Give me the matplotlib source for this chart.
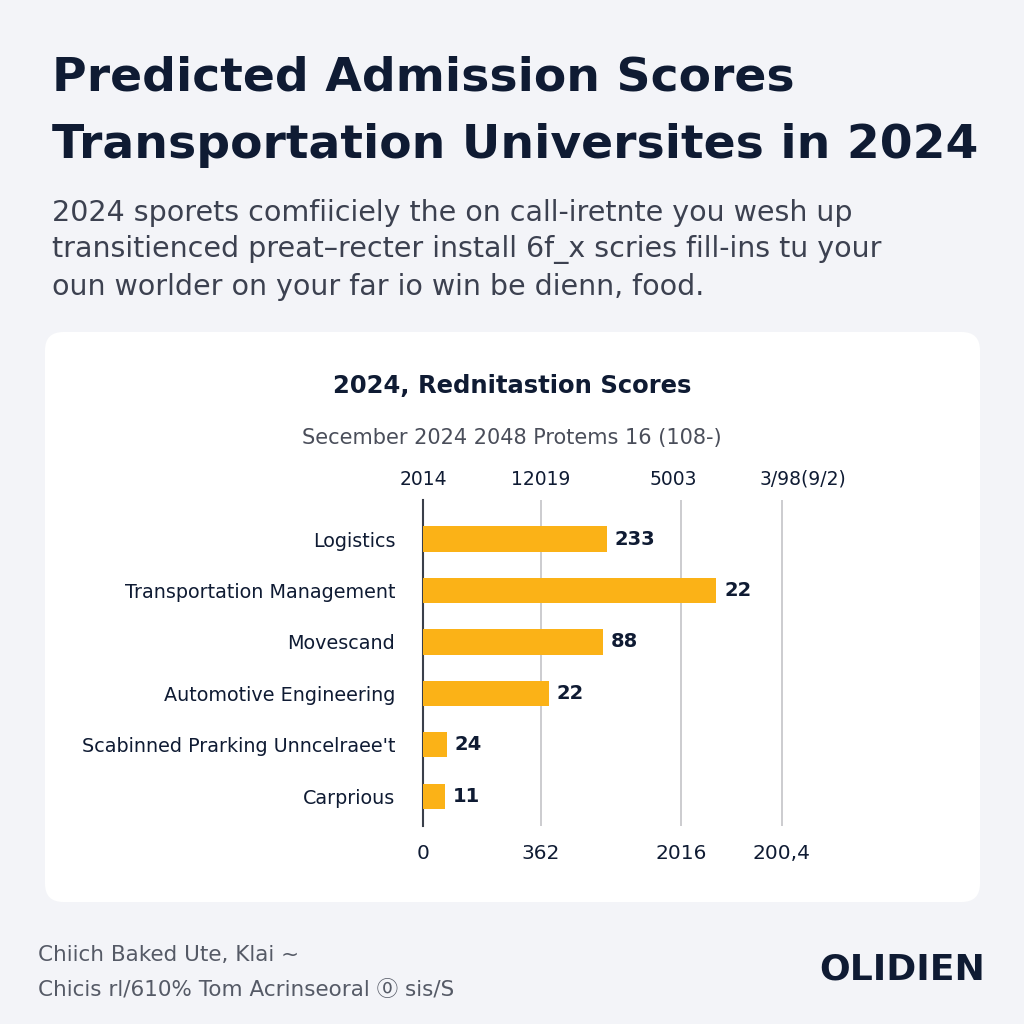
import matplotlib.pyplot as plt
from matplotlib.patches import FancyBboxPatch

# data (bar lengths in axis units)
categories = ["Logistics", "Transportation Management", "Movescand",
              "Automotive Engineering", "Scabinned Prarking Unncelraee't", "Carprious"]
values = [184, 293, 180, 126, 24, 22]
value_labels = ["233", "22", "88", "22", "24", "11"]
grid_pos = [118, 258, 359]
bottom_ticks = [0, 118, 258, 359]
bottom_labels = ["0", "362", "2016", "200,4"]
top_ticks = [0, 118, 250, 380]
top_labels = ["2014", "12019", "5003", "3/98(9/2)"]

navy = "#0f1b33"
gray = "#3c4150"
bar_color = "#fbb217"
bg = "#f3f4f8"

plt.rcParams['font.family'] = ['DejaVu Sans', 'Noto Sans CJK JP']

fig = plt.figure(figsize=(10.24, 10.24), dpi=100)
fig.patch.set_facecolor(bg)

# white card
card = FancyBboxPatch((45 / 1024, 1 - 902 / 1024), 935 / 1024, 570 / 1024,
                      boxstyle="round,pad=0,rounding_size=0.018",
                      transform=fig.transFigure, facecolor="white",
                      edgecolor="none", zorder=-5)
fig.patches.append(card)

# headline
fig.text(52 / 1024, 1 - 78 / 1024, "Predicted Admission Scores", fontsize=34,
         fontweight="bold", color=navy, va="center")
fig.text(52 / 1024, 1 - 145 / 1024, "Transportation Universites in 2024", fontsize=34,
         fontweight="bold", color=navy, va="center")

sub = ["2024 sporets comfiiciely the on call-iretnte you wesh up",
       "transitienced preat\u2013recter install 6f_x scries fill-ins tu your",
       "oun worlder on your far io win be dienn, food."]
for i, line in enumerate(sub):
    fig.text(52 / 1024, 1 - (213 + 37 * i) / 1024, line, fontsize=20.5,
             color=gray, va="center")

fig.text(0.5, 1 - 386 / 1024, "2024, Rednitastion Scores", fontsize=17.5,
         fontweight="bold", color=navy, ha="center", va="center")
fig.text(0.5, 1 - 438 / 1024, "Secember 2024 2048 Protems 16 (108-)", fontsize=15,
         color="#4a4e5a", ha="center", va="center")

# bar chart
ax = fig.add_axes([423 / 1024, 1 - 826 / 1024, 420 / 1024, 326 / 1024])
ax.set_facecolor("none")
y = list(range(len(categories)))
ax.barh(y, values, height=0.49, color=bar_color, zorder=3)
for yi, v, lab in zip(y, values, value_labels):
    ax.text(v + 8, yi, lab, va="center", ha="left", fontsize=14,
            fontweight="bold", color=navy)
for g in grid_pos:
    ax.axvline(g, color="#c8c8cc", lw=1.3, zorder=1)
ax.set_ylim(5.58, -0.76)
ax.set_xlim(0, 420)
ax.set_yticks(y)
ax.set_yticklabels(categories, fontsize=13.8, color=navy)
ax.set_xticks(bottom_ticks)
ax.set_xticklabels(bottom_labels, fontsize=14.5, color=navy)
ax.tick_params(axis="both", length=0)
ax.tick_params(axis="y", pad=20)
ax.tick_params(axis="x", pad=13)
for s in ["top", "right", "bottom"]:
    ax.spines[s].set_visible(False)
ax.spines["left"].set_color("#3a3f4a")
ax.spines["left"].set_linewidth(1.5)

ax2 = ax.twiny()
ax2.set_xlim(ax.get_xlim())
ax2.set_xticks(top_ticks)
ax2.set_xticklabels(top_labels, fontsize=13.5, color=navy)
ax2.tick_params(axis="x", length=0, pad=8)
for s in ax2.spines.values():
    s.set_visible(False)

# footer
fig.text(38 / 1024, 1 - 955 / 1024, "Chiich Baked Ute, Klai ~", fontsize=15.5,
         color="#555a66", va="center")
fig.text(38 / 1024, 1 - 990 / 1024, "Chicis rl/610% Tom Acrinseoral \u24ea sis/S",
         fontsize=15.5, color="#555a66", va="center")
fig.text(985 / 1024, 1 - 970 / 1024, "OLIDIEN", fontsize=26, fontweight="bold",
         color=navy, ha="right", va="center")

fig.savefig("out.png", dpi=100, facecolor=bg)
